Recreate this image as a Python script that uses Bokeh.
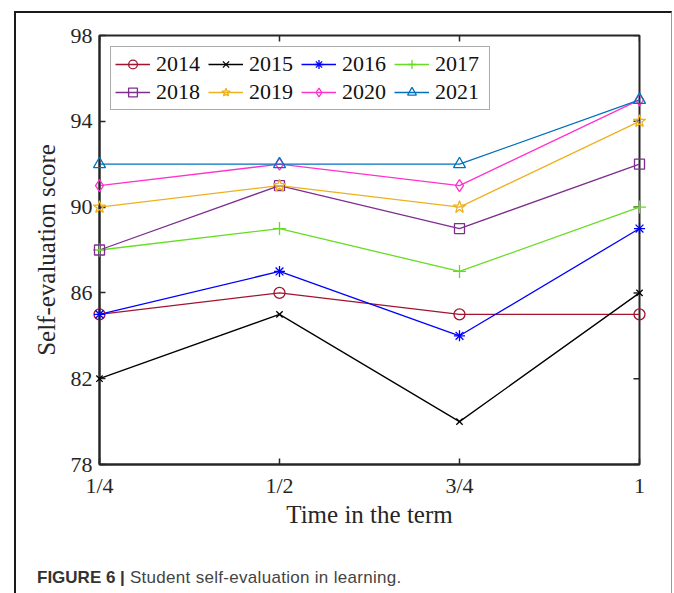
import math
from bokeh.plotting import figure
from bokeh.models import FixedTicker, Range1d, Div
from bokeh.layouts import column
from bokeh.embed import file_html
from bokeh.resources import INLINE

# ---- data ----
x_vals = [0.25, 0.5, 0.75, 1.0]
x_tick_labels = ["1/4", "1/2", "3/4", "1"]
y_ticks = [78, 82, 86, 90, 94, 98]
years = ["2014", "2015", "2016", "2017", "2018", "2019", "2020", "2021"]
s2014 = [85, 86, 85, 85]
s2015 = [82, 85, 80, 86]
s2016 = [85, 87, 84, 89]
s2017 = [88, 89, 87, 90]
s2018 = [88, 91, 89, 92]
s2019 = [90, 91, 90, 94]
s2020 = [91, 92, 91, 95]
s2021 = [92, 92, 92, 95]
series = [s2014, s2015, s2016, s2017, s2018, s2019, s2020, s2021]

colors = ["#A2142F", "#000000", "#0000FF", "#66DD22", "#7E2F8E", "#EDB120", "#FF33CC", "#0072BD"]
markers = ["circle", "x", "asterisk", "cross", "square", "star", "diamond", "triangle"]
sizes = [11, 9, 11, 13, 10, 13, 12, 12]

SERIF = "Liberation Serif"
AX = "#262626"

p = figure(frame_width=540, frame_height=429,
           min_border_left=83, min_border_right=32, min_border_top=22, min_border_bottom=71,
           x_range=Range1d(x_vals[0], x_vals[-1]), y_range=Range1d(y_ticks[0], y_ticks[-1]),
           output_backend="svg", toolbar_location=None)
p.background_fill_color = "white"
p.border_fill_color = "white"
p.outline_line_color = AX
p.outline_line_width = 2
p.grid.visible = False

for ax in [p.xaxis[0], p.yaxis[0]]:
    ax.axis_line_color = AX
    ax.axis_line_width = 2
    ax.major_tick_in = 6
    ax.major_tick_out = 0
    ax.major_tick_line_color = AX
    ax.major_tick_line_width = 1.5
    ax.minor_tick_line_color = None
    ax.major_label_text_font = SERIF
    ax.major_label_text_font_size = "22px"
    ax.major_label_text_color = AX
    ax.axis_label_text_font = SERIF
    ax.axis_label_text_font_size = "25px"
    ax.axis_label_text_font_style = "normal"
    ax.axis_label_text_color = AX

p.xaxis[0].ticker = FixedTicker(ticks=x_vals)
p.xaxis[0].major_label_overrides = {v: l for v, l in zip(x_vals, x_tick_labels)}
p.xaxis[0].axis_label = "Time in the term"
p.xaxis[0].major_label_standoff = 8
p.xaxis[0].axis_label_standoff = 0
p.yaxis[0].ticker = FixedTicker(ticks=y_ticks)
p.yaxis[0].axis_label = "Self-evaluation score"
p.yaxis[0].major_label_standoff = 7
p.yaxis[0].axis_label_standoff = 8

# inward tick marks on the top and right edges (half of each dash is clipped by the frame)
p.scatter([x_vals[-1]] * len(y_ticks), y_ticks, marker="dash", size=12,
          line_color=AX, line_width=1.5)
p.scatter(x_vals, [y_ticks[-1]] * len(x_vals), marker="dash", size=12, angle=math.pi / 2,
          line_color=AX, line_width=1.5)

for yr, ys, c, m, s in zip(years, series, colors, markers, sizes):
    p.line(x_vals, ys, line_color=c, line_width=1.3, legend_label=yr)
    p.scatter(x_vals, ys, marker=m, size=s, line_color=c, fill_color=None,
              line_width=1.3, legend_label=yr, level="overlay")

lg = p.legend[0]
items = list(lg.items)
# legend fills column by column: reorder so rows read 2014..2017 / 2018..2021
lg.items = [items[i] for i in [0, 4, 1, 5, 2, 6, 3, 7]]
lg.ncols = 4
lg.location = "top_left"
lg.margin = 11
lg.padding = 4
lg.spacing = 2
lg.glyph_width = 35
lg.glyph_height = 22
lg.label_standoff = 6
lg.label_width = 50
lg.label_text_font = SERIF
lg.label_text_font_size = "22px"
lg.label_text_color = "#111111"
lg.border_line_color = "#555555"
lg.border_line_width = 1
lg.background_fill_color = "white"
lg.background_fill_alpha = 1

cap = Div(text='<div style="padding-top:26px;padding-left:16px;letter-spacing:0.3px;'
               'font-family:\'Liberation Sans\',Arial,sans-serif;font-size:17px;color:#444444;'
               'white-space:nowrap">'
               '<span style="font-weight:bold;color:#333333;letter-spacing:0">FIGURE 6 |</span> '
               'Student self-evaluation in learning.</div>',
          width=640, height=55)

layout = column(p, cap, styles={"margin-left": "14px", "margin-top": "11px",
                                "border-left": "2px solid #1a1a1a",
                                "border-top": "2px solid #1a1a1a",
                                "border-right": "1px solid #999999",
                                "background-color": "white"})

open("out.html", "w").write(file_html(layout, INLINE))
